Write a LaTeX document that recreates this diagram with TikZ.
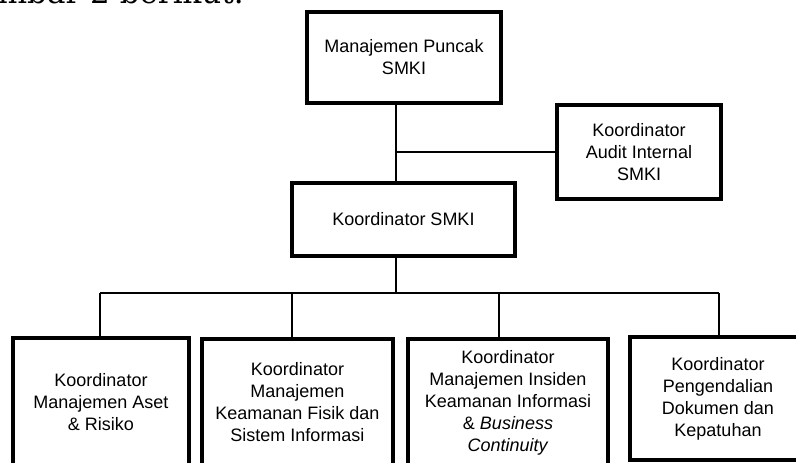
\documentclass[tikz,border=0pt]{standalone}
\usepackage{fontspec}
\setmainfont{Liberation Sans}
\newfontfamily\judulfont{DejaVu Serif}
\usepackage{xcolor}
\usepackage{tikz}
\usetikzlibrary{shapes,arrows}
\newcommand{\teksbox}{\fontsize{18}{22}\selectfont}
\tikzstyle{block} = [rectangle, draw, line width=3.2pt, text centered, align=center,
    inner sep=0pt, font=\teksbox]
\tikzstyle{line} = [draw, line width=1.3pt]
\tikzstyle{linetebal} = [draw, line width=2.6pt]
\begin{document}
\begin{tikzpicture}[node distance=1cm,auto,x=1pt,y=-1pt]
  \useasboundingbox (0,0) rectangle (796,463);
  % potongan kalimat di atas gambar
  \node [anchor=base east, inner sep=0pt, font=\judulfont\fontsize{31}{34}\selectfont] (judul) at (244,4) {Gambar 2 berikut.};

      \node [block, minimum width=194pt, minimum height=91pt] (puncak) at (404,57.5) {Manajemen Puncak\\SMKI};
      \node [block, minimum width=164pt, minimum height=94pt] (audit) at (639,152) {Koordinator\\Audit Internal\\SMKI};
      \node [block, minimum width=223pt, minimum height=73pt] (smki) at (403.5,219.5) {Koordinator SMKI};

      \node [block, minimum width=176pt, minimum height=128pt] (aset) at (101,402) {Koordinator\\Manajemen Aset\\\& Risiko};
      \node [block, minimum width=191pt, minimum height=127pt] (fisik) at (297.5,402.5) {Koordinator\\Manajemen\\Keamanan Fisik dan\\Sistem Informasi};
      \node [block, minimum width=200pt, minimum height=127pt] (insiden) at (508,402.5) {Koordinator\\Manajemen Insiden\\Keamanan Informasi\\\& \textit{Business}\\\textit{Continuity}};
      \node [block, minimum width=176pt, minimum height=123pt] (dokumen) at (718,398.5) {Koordinator\\Pengendalian\\Dokumen dan\\Kepatuhan};

  
      \coordinate (atas) at (396,103);
      \coordinate (simpul) at (396,152);
      \coordinate (cabang) at (396,293);
      \coordinate (c1) at (100,293);
      \coordinate (c2) at (292,293);
      \coordinate (c3) at (499,293);
      \coordinate (c4) at (719,293);

      \path [linetebal] (atas) -- (simpul);
      \path [line] (simpul) -- (simpul |- smki.north);
      \path [line] (simpul) -- (audit.west);
      \path [line] (cabang |- smki.south) -- (cabang);
      \path [line] (c1) -- (c4);
      \path [line] (c1) -- (c1 |- aset.north);
      \path [line] (c2) -- (c2 |- fisik.north);
      \path [line] (c3) -- (c3 |- insiden.north);
      \path [line] (c4) -- (c4 |- dokumen.north);

    \end{tikzpicture}
\end{document}
